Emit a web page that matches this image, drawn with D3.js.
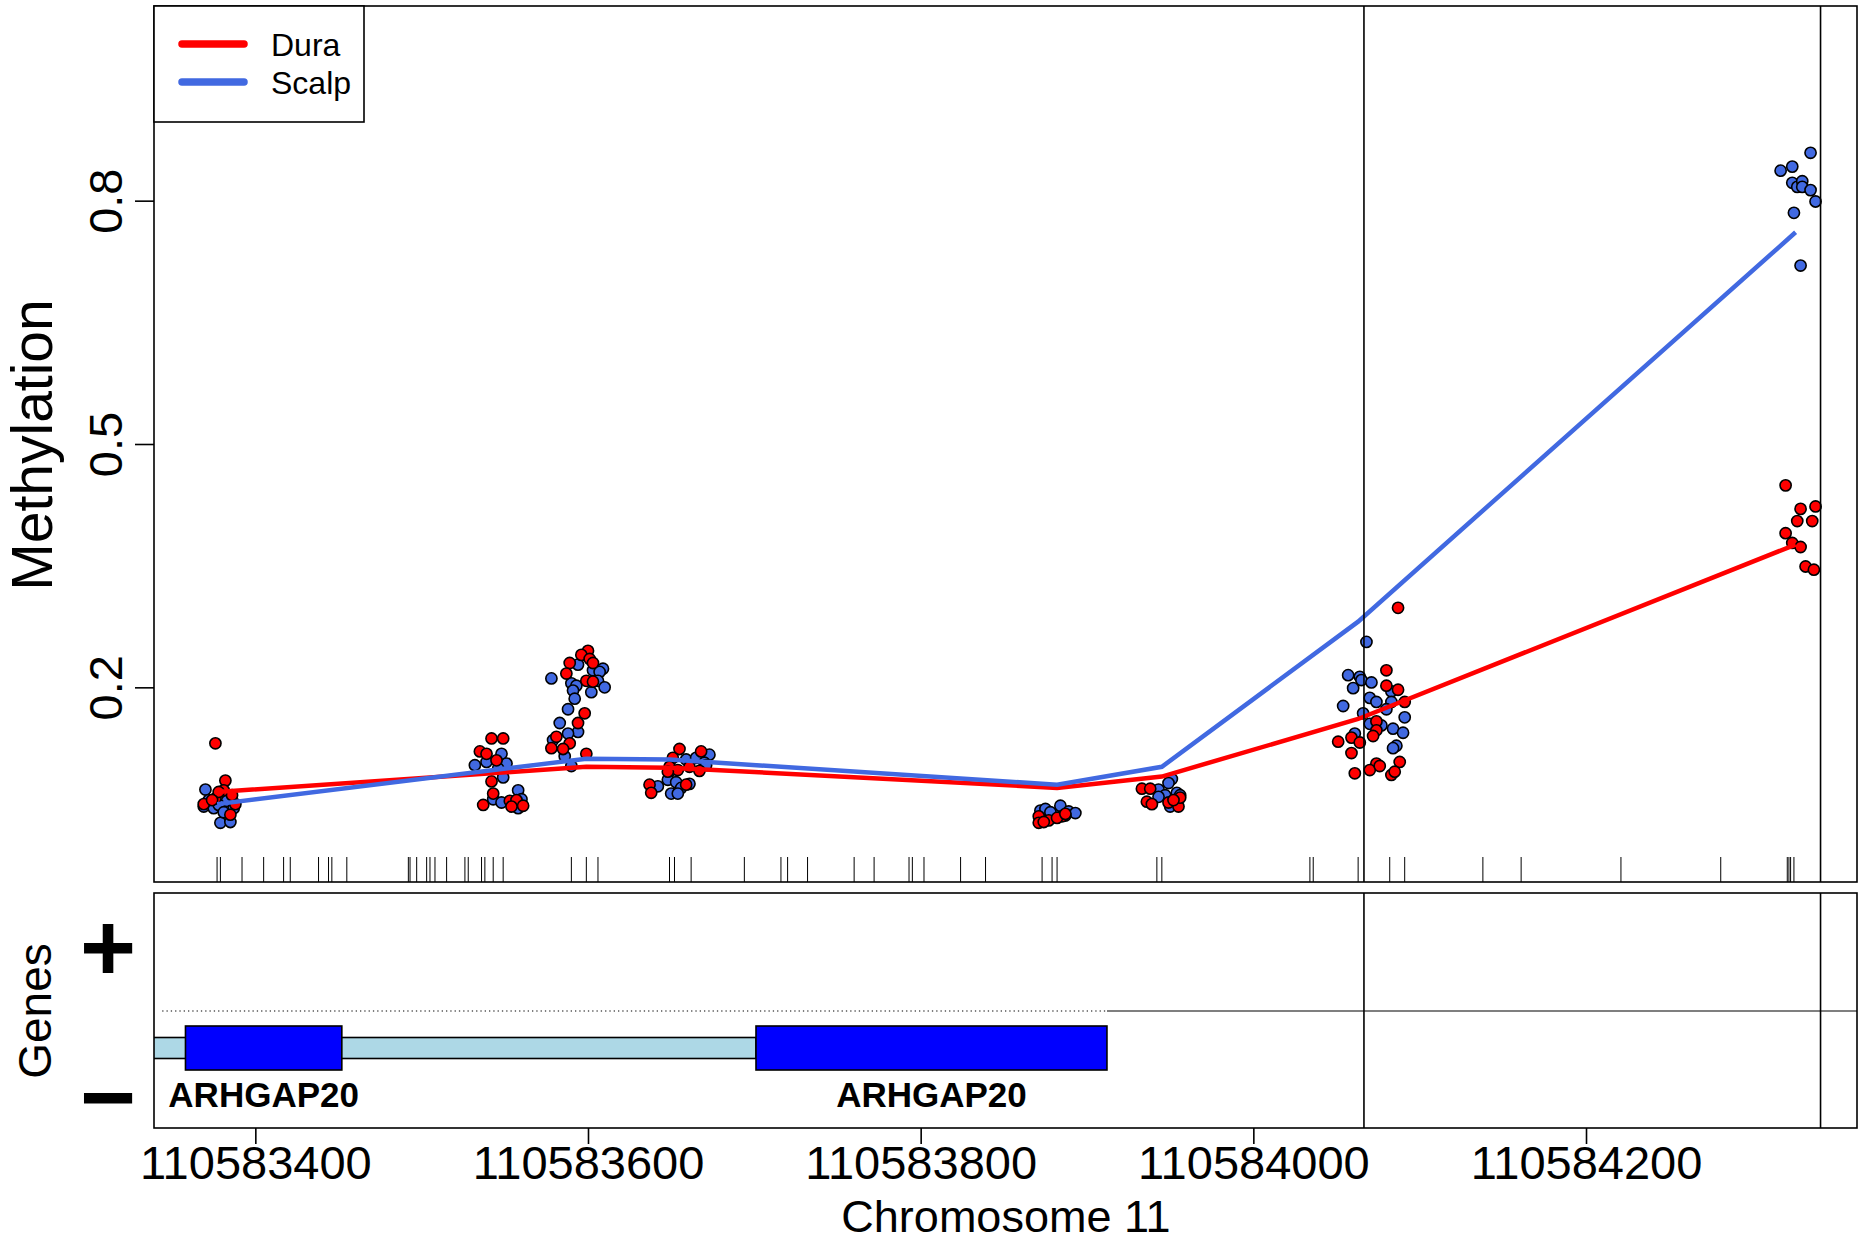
<!DOCTYPE html>
<html><head><meta charset="utf-8">
<script src="https://cdn.jsdelivr.net/npm/d3@7"></script>
<style>
body{margin:0;background:#fff}
svg{display:block}
text{font-family:"Liberation Sans",Arial,Helvetica,sans-serif;fill:#000}
</style>
</head><body>
<svg id="chart" width="1860" height="1242"></svg>
<script>
// ---------------- DATA ----------------
const seriesNames = ["Dura", "Scalp"];
const seriesColors = ["#FF0000", "#4169E1"];

// CpG positions (rug)
const cpgPositions = [110583377,110583379,110583392,110583405,110583417,110583421,110583438,110583444,110583446,110583455,
  110583492,110583493,110583497,110583503,110583505,110583508,110583515,110583526,110583528,110583536,110583538,110583543,110583549,
  110583590,110583599,110583606,110583649,110583652,110583662,110583694,110583716,110583720,110583732,110583760,110583772,
  110583793,110583795,110583802,110583824,110583839,110583873,110583879,110583882,110583942,110583945,
  110584034,110584036,110584063,110584082,110584091,110584138,110584161,110584221,110584281,110584321,110584322,110584323,110584325];

// smoothed group lines
const linePositions = [110583377,110583599,110583649,110583882,110583945,110584063,110584326];
const duraLine  = [0.071,0.102,0.101,0.076,0.090,0.161,0.376];
const scalpLine = [0.056,0.112,0.111,0.080,0.102,0.281,0.761];

// individual sample values [position, methylation]
const duraPoints = [
 [110583376,0.131],[110583382,0.085],[110583381,0.073],[110583376,0.063],[110583369,0.056],[110583388,0.056],[110583385,0.043],[110583378,0.071],[110583374,0.061],[110583386,0.067],
 [110583542,0.137],[110583549,0.137],[110583535,0.121],[110583539,0.118],[110583545,0.110],[110583542,0.084],[110583543,0.069],[110583537,0.055],[110583553,0.060],[110583557,0.061],[110583561,0.054],[110583554,0.053],
 [110583600,0.245],[110583596,0.240],[110583601,0.235],[110583589,0.230],[110583603,0.230],[110583587,0.217],[110583599,0.208],[110583603,0.207],[110583598,0.168],[110583594,0.156],[110583581,0.139],[110583589,0.131],[110583585,0.124],[110583578,0.125],[110583599,0.118],
 [110583655,0.124],[110583668,0.121],[110583651,0.113],[110583649,0.102],[110583654,0.098],[110583661,0.102],[110583667,0.097],[110583637,0.080],[110583638,0.070],[110583659,0.080],[110583648,0.096],
 [110583871,0.041],[110583871,0.033],[110583877,0.036],[110583885,0.041],[110583874,0.034],[110583882,0.039],[110583887,0.044],
 [110583933,0.075],[110583938,0.075],[110583936,0.059],[110583939,0.056],[110583949,0.058],[110583955,0.053],[110583956,0.064],[110583952,0.061],
 [110584087,0.298],[110584080,0.221],[110584080,0.202],[110584087,0.197],[110584091,0.182],[110584074,0.158],[110584074,0.147],[110584072,0.140],[110584059,0.138],[110584051,0.133],[110584064,0.132],[110584059,0.119],[110584074,0.106],[110584088,0.108],[110584070,0.098],[110584061,0.094],[110584083,0.092],[110584085,0.096],[110584076,0.103],
 [110584320,0.449],[110584329,0.420],[110584338,0.423],[110584327,0.405],[110584336,0.405],[110584320,0.390],[110584324,0.378],[110584329,0.373],[110584332,0.349],[110584337,0.345]
];
const scalpPoints = [
 [110583370,0.074],[110583369,0.053],[110583375,0.051],[110583383,0.060],[110583379,0.033],[110583385,0.034],[110583378,0.055],[110583387,0.051],[110583372,0.061],[110583381,0.046],
 [110583548,0.118],[110583539,0.108],[110583532,0.104],[110583551,0.106],[110583546,0.100],[110583549,0.089],[110583543,0.062],[110583548,0.058],[110583558,0.073],[110583560,0.062],[110583558,0.051],
 [110583594,0.228],[110583603,0.221],[110583609,0.223],[110583607,0.219],[110583578,0.211],[110583606,0.208],[110583590,0.205],[110583593,0.202],[110583610,0.200],[110583602,0.194],[110583591,0.196],[110583592,0.186],[110583588,0.173],[110583583,0.156],[110583594,0.145],[110583588,0.143],[110583579,0.135],[110583586,0.115],[110583590,0.103],
 [110583659,0.111],[110583665,0.113],[110583673,0.117],[110583670,0.107],[110583671,0.104],[110583649,0.096],[110583648,0.086],[110583642,0.078],[110583653,0.083],[110583656,0.076],[110583661,0.081],[110583650,0.069],[110583654,0.069],
 [110583872,0.048],[110583875,0.050],[110583880,0.044],[110583884,0.054],[110583889,0.047],[110583893,0.045],[110583887,0.042],[110583878,0.046],
 [110583943,0.074],[110583951,0.087],[110583949,0.082],[110583947,0.067],[110583954,0.070],[110583950,0.053],[110583943,0.065],[110583956,0.067],
 [110584068,0.256],[110584057,0.215],[110584064,0.213],[110584065,0.209],[110584071,0.206],[110584060,0.199],[110584083,0.195],[110584070,0.187],[110584074,0.182],[110584083,0.182],[110584054,0.177],[110584080,0.173],[110584066,0.168],[110584091,0.163],[110584070,0.155],[110584077,0.153],[110584084,0.149],[110584090,0.144],[110584061,0.143],[110584086,0.128],[110584084,0.125],
 [110584335,0.859],[110584317,0.837],[110584324,0.842],[110584324,0.822],[110584327,0.817],[110584330,0.824],[110584330,0.817],[110584335,0.813],[110584338,0.799],[110584325,0.785],[110584329,0.720]
];

// region boundaries (vertical lines)
const regionLines = [110584066.5, 110584341];

// gene track
const geneName = "ARHGAP20";
const exons = [[110583358,110583452],[110583701,110583912]];
const utrSpan = [110583300,110583701];
const strandDotted = [110583344,110583912];

// axis ticks
const xTicks = [110583400,110583600,110583800,110584000,110584200];
const yTicks = [0.2,0.5,0.8];
const yTickLabels = ["0.2","0.5","0.8"];
const strandTicks = [1,-1];
const strandLabels = ["+","\u2212"];

// ---------------- LAYOUT ----------------
const L=154, R=1857, T1=6, B1=882, T2=893, B2=1128;
const svg = d3.select("#chart");

const pad = (d3.max(cpgPositions)-d3.min(cpgPositions))*0.04;
const x = d3.scaleLinear().domain([d3.min(cpgPositions)-pad, d3.max(cpgPositions)+pad]).range([L,R]);
const y = d3.scaleLinear().domain([-0.04,1.04]).range([B1,T1]);
const gy = d3.scaleLinear().domain([-1.43,1.72]).range([B2,T2]);

const defs = svg.append("defs");
defs.append("clipPath").attr("id","clipTop").append("rect").attr("x",L).attr("y",T1).attr("width",R-L).attr("height",B1-T1);
defs.append("clipPath").attr("id","clipBot").append("rect").attr("x",L).attr("y",T2).attr("width",R-L).attr("height",B2-T2);

// ---- top panel ----
const topG = svg.append("g").attr("clip-path","url(#clipTop)");

// rug
topG.append("g").selectAll("line").data(cpgPositions).join("line")
  .attr("x1",d=>x(d)).attr("x2",d=>x(d)).attr("y1",B1-25).attr("y2",B1)
  .attr("stroke","#000").attr("stroke-width",1);

// points
function drawPts(arr,color){
  topG.append("g").selectAll("circle").data(arr).join("circle")
    .attr("cx",d=>x(d[0])).attr("cy",d=>y(d[1])).attr("r",5.6)
    .attr("fill",color).attr("stroke","#000").attr("stroke-width",1.6);
}
drawPts(scalpPoints, seriesColors[1]);
drawPts(duraPoints, seriesColors[0]);

// lines
const lineGen = vals => d3.line().x((d,i)=>x(linePositions[i])).y(d=>y(d))(vals);
topG.append("path").attr("d",lineGen(duraLine)).attr("fill","none").attr("stroke",seriesColors[0]).attr("stroke-width",4.5);
topG.append("path").attr("d",lineGen(scalpLine)).attr("fill","none").attr("stroke",seriesColors[1]).attr("stroke-width",4.5);

// region lines
topG.append("g").selectAll("line").data(regionLines).join("line")
  .attr("x1",d=>x(d)).attr("x2",d=>x(d)).attr("y1",T1).attr("y2",B1)
  .attr("stroke","#000").attr("stroke-width",1.6);

// frame
svg.append("rect").attr("x",L).attr("y",T1).attr("width",R-L).attr("height",B1-T1)
  .attr("fill","none").attr("stroke","#000").attr("stroke-width",1.6);

// y axis
const yAxis = svg.append("g").attr("transform",`translate(${L},0)`)
  .call(d3.axisLeft(y).tickValues(yTicks).tickSize(19).tickFormat((d,i)=>yTickLabels[i]));
yAxis.select(".domain").remove();
yAxis.selectAll(".tick line").attr("stroke","#000").attr("stroke-width",1.6);
yAxis.selectAll(".tick text")
  .attr("transform","rotate(-90)").attr("x",0).attr("y",-32).attr("dy",0)
  .attr("text-anchor","middle").style("font-size","47px").style("font-family",'"Liberation Sans",Arial,sans-serif');

svg.append("text").attr("transform","translate(52,445) rotate(-90)")
  .attr("text-anchor","middle").style("font-size","57px").text("Methylation");

// legend
const lg = svg.append("g");
lg.append("rect").attr("x",L).attr("y",T1).attr("width",210).attr("height",116)
  .attr("fill","#fff").attr("stroke","#000").attr("stroke-width",1.6);
seriesNames.forEach((n,i)=>{
  const yy = 44 + i*38;
  lg.append("line").attr("x1",182).attr("x2",244).attr("y1",yy).attr("y2",yy)
    .attr("stroke",seriesColors[i]).attr("stroke-width",7.5).attr("stroke-linecap","round");
  lg.append("text").attr("x",271).attr("y",yy+12).style("font-size","32px").text(n);
});

// ---- bottom panel (genes) ----
const botG = svg.append("g").attr("clip-path","url(#clipBot)");
const strandY = 1011, geneY = 1048;
botG.append("line").attr("x1",x(strandDotted[0])).attr("x2",x(strandDotted[1]))
  .attr("y1",strandY).attr("y2",strandY).attr("stroke","#000").attr("stroke-width",1.2)
  .attr("stroke-dasharray","1.3,3");
botG.append("line").attr("x1",x(strandDotted[1])).attr("x2",R)
  .attr("y1",strandY).attr("y2",strandY).attr("stroke","#000").attr("stroke-width",1.2);

botG.append("rect").attr("x",x(utrSpan[0])).attr("y",geneY-10.5)
  .attr("width",x(utrSpan[1])-x(utrSpan[0])).attr("height",21)
  .attr("fill","#ADD8E6").attr("stroke","#000").attr("stroke-width",1.6);
botG.append("g").selectAll("rect").data(exons).join("rect")
  .attr("x",d=>x(d[0])).attr("y",geneY-22).attr("width",d=>x(d[1])-x(d[0])).attr("height",44)
  .attr("fill","#0000FF").attr("stroke","#000").attr("stroke-width",1.6);
botG.append("g").selectAll("text").data(exons).join("text")
  .attr("x",d=>x((d[0]+d[1])/2)).attr("y",1107).attr("text-anchor","middle")
  .style("font-size","35px").style("font-weight","bold").text(geneName);

botG.append("g").selectAll("line").data(regionLines).join("line")
  .attr("x1",d=>x(d)).attr("x2",d=>x(d)).attr("y1",T2).attr("y2",B2)
  .attr("stroke","#000").attr("stroke-width",1.6);

svg.append("rect").attr("x",L).attr("y",T2).attr("width",R-L).attr("height",B2-T2)
  .attr("fill","none").attr("stroke","#000").attr("stroke-width",1.6);

// strand labels (no tick marks)
const sAxis = svg.append("g").attr("transform",`translate(${L},0)`)
  .call(d3.axisLeft(gy).tickValues(strandTicks).tickSize(0).tickFormat((d,i)=>strandLabels[i]));
sAxis.select(".domain").remove();
sAxis.selectAll(".tick line").remove();
sAxis.selectAll(".tick text").attr("x",-46).attr("y",34).attr("dy",0).attr("text-anchor","middle")
  .style("font-size","96px").style("font-weight","bold").style("font-family",'"Liberation Sans",Arial,sans-serif');

svg.append("text").attr("transform","translate(51,1011) rotate(-90)")
  .attr("text-anchor","middle").style("font-size","46px").text("Genes");

// x axis
const xAxis = svg.append("g").attr("transform",`translate(0,${B2})`)
  .call(d3.axisBottom(x).tickValues(xTicks).tickSize(16).tickFormat(d3.format("d")));
xAxis.select(".domain").remove();
xAxis.selectAll(".tick line").attr("stroke","#000").attr("stroke-width",1.6);
xAxis.selectAll(".tick text").attr("y",51).attr("dy",0)
  .style("font-size","47px").style("font-family",'"Liberation Sans",Arial,sans-serif');

svg.append("text").attr("x",1006).attr("y",1232).attr("text-anchor","middle")
  .style("font-size","45px").text("Chromosome 11");
</script>
</body></html>
